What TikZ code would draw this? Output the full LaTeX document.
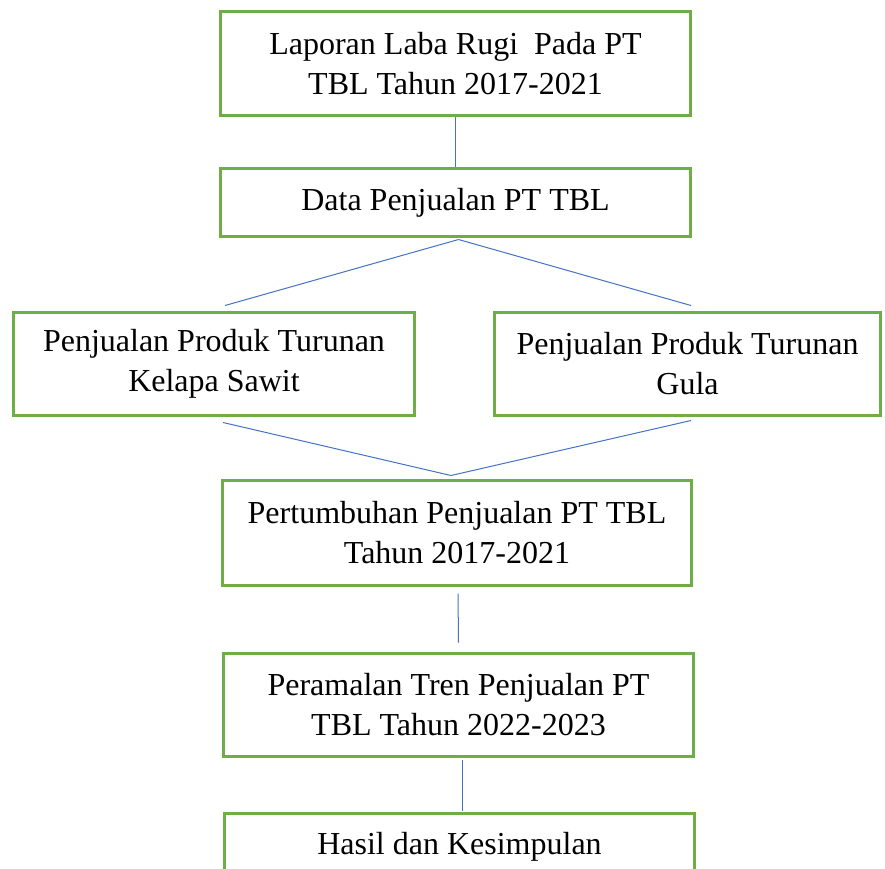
\documentclass[tikz,border=0pt]{standalone}
\usepackage{fontspec}
\setmainfont{Liberation Serif}
\definecolor{boxgreen}{HTML}{70AD47}
\definecolor{lineblue}{HTML}{4472C4}
\begin{document}
\begin{tikzpicture}[x=1pt,y=-1pt,
  box/.style={draw=boxgreen, line width=3pt, rectangle, inner sep=0pt, align=center,
    font=\fontsize{32}{40}\selectfont},
  conn/.style={draw=lineblue, line width=1pt}]
\useasboundingbox (0,0) rectangle (885,868);
\node[box, minimum width=470pt, minimum height=104pt] (b1) at (455.5,63.5) {Laporan Laba Rugi \ Pada PT\\TBL Tahun 2017-2021};
\node[box, minimum width=470pt, minimum height=68pt] (b2) at (455.5,202.5) {Data Penjualan PT TBL};
\node[box, minimum width=401pt, minimum height=103pt] (b3) at (214,364) {Penjualan Produk Turunan\\Kelapa Sawit};
\node[box, minimum width=386pt, minimum height=103pt] (b4) at (687.5,364) {Penjualan Produk Turunan\\Gula};
\node[box, minimum width=469pt, minimum height=105pt] (b5) at (457,533) {Pertumbuhan Penjualan PT TBL\\Tahun 2017-2021};
\node[box, minimum width=470pt, minimum height=103pt] (b6) at (458.5,705) {Peramalan Tren Penjualan PT\\TBL Tahun 2022-2023};
\node[box, minimum width=470pt, minimum height=67pt] (b7) at (459.5,847) {Hasil dan Kesimpulan};
\coordinate (apex) at ([shift={(-6,-3.5)}]b5.north);
\draw[conn] (b1.south) -- (b2.north);
\draw[conn] ([shift={(3,1.5)}]b2.south) -- ([shift={(11,-5.5)}]b3.north);
\draw[conn] ([shift={(3,1.5)}]b2.south) -- ([shift={(3.5,-5.5)}]b4.north);
\draw[conn] ([shift={(9,5.5)}]b3.south) -- (apex);
\draw[conn] ([shift={(3.5,3.5)}]b4.south) -- (apex);
\draw[conn] ([shift={(1,6.5)}]b5.south) -- ([shift={(0,-9.5)}]b6.north);
\draw[conn] ([shift={(3.5,1.5)}]b6.south) -- ([shift={(2.5,-1.5)}]b7.north);
\end{tikzpicture}
\end{document}
